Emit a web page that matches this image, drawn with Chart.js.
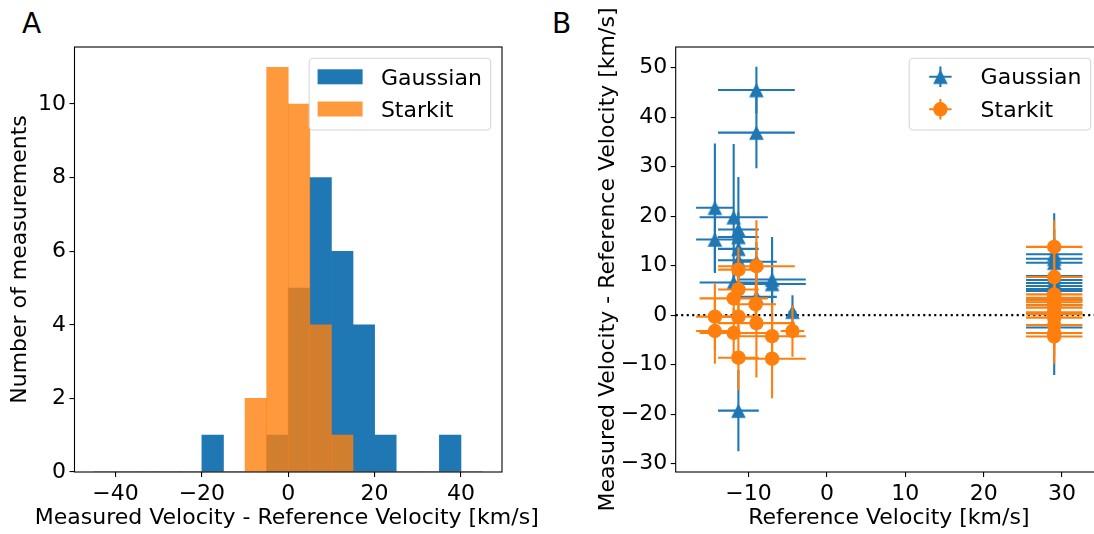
<!DOCTYPE html>
<html><head><meta charset="utf-8">
<script src="https://cdn.jsdelivr.net/npm/chart.js@4.4.1/dist/chart.umd.min.js"></script>
<style>
html,body{margin:0;padding:0;background:#fff;overflow:hidden;width:1094px;height:534px;position:relative;}
#wrapA{position:absolute;left:0;top:0;width:547px;height:534px;}
#wrapB{position:absolute;left:547px;top:0;width:600px;height:534px;}
.lbl{position:absolute;font-family:'DejaVu Sans';font-size:28px;line-height:28px;color:#000;}
</style></head>
<body>
<div class="lbl" style="left:22px;top:9.5px">A</div>
<div class="lbl" style="left:552px;top:9.5px">B</div>
<div id="wrapA"><canvas id="cA"></canvas></div>
<div id="wrapB"><canvas id="cB"></canvas></div>
<script>
// ---------- Panel A: histogram ----------
const histBinCenters = [-42.5,-37.5,-32.5,-27.5,-22.5,-17.5,-12.5,-7.5,-2.5,2.5,7.5,12.5,17.5,22.5,27.5,32.5,37.5,42.5];
const gaussianCounts = [0,0,0,0,0,1,0,0,1,5,8,6,4,1,0,0,1,0];
const starkitCounts  = [0,0,0,0,0,0,0,2,11,10,4,1,0,0,0,0,0,0];
const histXTicks = [-40,-20,0,20,40];
const histYTicks = [0,2,4,6,8,10];
const histXTitle = 'Measured Velocity - Reference Velocity [km/s]';

// ---------- Panel B: scatter with error bars ----------
const gaussRefVel  = [-9.0,-9.0,-14.3,-14.3,-11.9,-11.3,-11.3,-11.3,-11.3,-9.0,-11.9,-7.0,-7.0,-9.0,-4.4,-11.3,
                      29.0,29.0,29.0,29.0,29.0,29.0,29.0,29.0,29.0,29.0,29.0,29.0];
const gaussDiff    = [45.5,36.9,21.7,15.3,19.8,17.3,15.8,13.4,11.1,10.8,6.6,7.2,6.3,3.7,0.7,-19.3,
                      12.3,11.4,10.6,7.9,7.1,6.5,5.9,5.3,4.9,3.0,2.0,-2.5];
const gaussRefErr  = [4.9,4.9,2.4,2.4,4.35,2.6,2.6,2.6,2.6,2.6,4.35,4.3,4.3,2.6,0.5,2.6,
                      3.6,3.6,3.6,3.6,3.6,3.6,3.6,3.6,3.6,3.6,3.6,3.6];
const gaussDiffErr = [4.7,7.2,13.0,6.8,14.8,10.6,5.0,4.0,3.5,4.0,4.0,8.6,4.0,3.0,3.3,8.2,
                      8.3,6.0,5.0,5.0,6.0,5.0,5.0,4.5,5.0,5.0,5.0,9.6];

const starkRefVel  = [-11.3,-9.0,-11.3,-11.9,-9.1,-14.3,-11.3,-9.0,-14.3,-11.9,-7.0,-4.4,-11.3,-7.0,
                      29.0,29.0,29.0,29.0,29.0,29.0,29.0,29.0,29.0,29.0,29.0,29.0,29.0,29.0];
const starkDiff    = [9.2,9.9,5.2,3.4,2.2,-0.3,-0.3,-1.6,-3.2,-3.6,-4.25,-3.2,-8.6,-8.8,
                      13.8,7.7,4.2,3.5,3.0,2.6,2.0,1.5,0.6,0.2,-0.5,-2.0,-3.6,-4.3];
const starkRefErr  = [2.6,4.9,2.6,4.35,2.6,2.4,2.6,4.9,2.4,4.35,4.3,1.5,2.6,4.3,
                      3.6,3.6,3.6,3.6,3.6,3.6,3.6,3.6,3.6,3.6,3.6,3.6,3.6,3.6];
const starkDiffErr = [4.5,9.3,5.0,3.0,4.0,6.7,4.0,11.0,6.6,5.0,6.6,5.2,6.6,8.0,
                      5.4,5.0,4.5,4.5,4.5,4.5,4.5,4.5,4.5,4.5,4.5,4.5,4.5,5.5];
const scatterXTicks = [-10,0,10,20,30];
const scatterYTicks = [-30,-20,-10,0,10,20,30,40,50];
const zeroLevel = 0;

const BLUE = '#1f77b4', ORANGE = '#ff7f0e', ORANGE_A = 'rgba(255,127,14,0.8)';
const FONT = 'DejaVu Sans';
Chart.defaults.font.family = FONT;
Chart.defaults.font.size = 22;
Chart.defaults.color = '#000';

const fmt = v => String(v).replace('-', '\u2212');

// triangle marker like matplotlib '^'
function makeTriangle(color, s) {
  const c = document.createElement('canvas');
  const n = Math.ceil(s) + 2;
  c.width = n; c.height = n;
  const g = c.getContext('2d');
  const o = (n - s) / 2;
  g.fillStyle = color;
  g.beginPath();
  g.moveTo(n / 2, o); g.lineTo(o + s, o + s); g.lineTo(o, o + s); g.closePath();
  g.fill();
  return c;
}
const triMarker = makeTriangle(BLUE, 14.6);

const framePlugin = {
  id: 'frame',
  afterDatasetsDraw(chart) {
    const {ctx, chartArea: a} = chart;
    ctx.save();
    ctx.strokeStyle = '#000'; ctx.lineWidth = 1.1;
    ctx.strokeRect(a.left, a.top, a.right - a.left, a.bottom - a.top);
    ctx.restore();
  }
};

// x-axis title drawn at full width (Chart.js would squeeze it to the axis width)
const wideXTitle = {
  id: 'wideXTitle',
  afterDraw(chart, args, opts) {
    if (!opts.text) return;
    const {ctx, chartArea: a} = chart;
    ctx.save();
    ctx.fillStyle = '#000'; ctx.font = '22px "' + FONT + '"';
    ctx.textAlign = 'center'; ctx.textBaseline = 'alphabetic';
    ctx.fillText(opts.text, (a.left + a.right) / 2 - 1.5, a.bottom + 52.3);
    ctx.restore();
  }
};

function drawLegendFrame(ctx, a) {
  const w = 181.5, h = 71.7;
  const x = a.right - 11.3 - w, y = a.top + 11.3, r = 4;
  ctx.save();
  ctx.beginPath();
  ctx.moveTo(x + r, y); ctx.lineTo(x + w - r, y); ctx.arcTo(x + w, y, x + w, y + r, r);
  ctx.lineTo(x + w, y + h - r); ctx.arcTo(x + w, y + h, x + w - r, y + h, r);
  ctx.lineTo(x + r, y + h); ctx.arcTo(x, y + h, x, y + h - r, r);
  ctx.lineTo(x, y + r); ctx.arcTo(x, y, x + r, y, r); ctx.closePath();
  ctx.fillStyle = 'rgba(255,255,255,0.8)'; ctx.fill();
  ctx.strokeStyle = '#d6d6d6'; ctx.lineWidth = 1.1; ctx.stroke();
  ctx.restore();
  return {x, y};
}

const legendA = {
  id: 'legendA',
  afterDraw(chart) {
    const {ctx, chartArea: a} = chart;
    const {x, y} = drawLegendFrame(ctx, a);
    chart.data.datasets.forEach((ds, i) => {
      ctx.save();
      ctx.fillStyle = ds.backgroundColor;
      ctx.fillRect(x + 8.4, y + 11 + i * 32.2, 45, 15);
      ctx.fillStyle = '#000'; ctx.font = '22px "' + FONT + '"';
      ctx.textBaseline = 'alphabetic';
      ctx.fillText(ds.label, x + 71.7, y + 26.7 + i * 32.2);
      ctx.restore();
    });
  }
};

const legendB = {
  id: 'legendB',
  afterDraw(chart) {
    const {ctx, chartArea: a} = chart;
    const {x, y} = drawLegendFrame(ctx, a);
    chart.data.datasets.forEach((ds, i) => {
      if (!ds.errX) return;
      const cx = x + 31.2, cy = y + 18.4 + i * 32.6;
      ctx.save();
      ctx.strokeStyle = ds.errColor; ctx.lineWidth = 2.1;
      ctx.beginPath();
      ctx.moveTo(cx - 11.2, cy); ctx.lineTo(cx + 11.2, cy);
      ctx.moveTo(cx, cy - 10.3); ctx.lineTo(cx, cy + 10.3);
      ctx.stroke();
      if (ds.pointStyle === 'circle') {
        ctx.fillStyle = ds.backgroundColor;
        ctx.beginPath(); ctx.arc(cx, cy, ds.pointRadius, 0, Math.PI * 2); ctx.fill();
      } else {
        ctx.drawImage(ds.pointStyle, cx - ds.pointStyle.width / 2, cy - ds.pointStyle.height / 2);
      }
      ctx.fillStyle = '#000'; ctx.font = '22px "' + FONT + '"';
      ctx.fillText(ds.label, x + 71.4, y + 26 + i * 32.4);
      ctx.restore();
    });
  }
};

const errorBars = {
  id: 'errorBars',
  beforeDatasetsDraw(chart) {
    const {ctx, chartArea: a, scales: {x, y}} = chart;
    const py = y.getPixelForValue(zeroLevel);
    ctx.save();
    ctx.strokeStyle = '#000'; ctx.lineWidth = 2.1; ctx.setLineDash([2.1, 3.4]);
    ctx.beginPath(); ctx.moveTo(a.left, py); ctx.lineTo(a.right, py); ctx.stroke();
    ctx.restore();
  },
  beforeDatasetDraw(chart, args) {
    const ds = chart.data.datasets[args.index];
    if (!ds.errX) return;
    const {ctx, chartArea: a, scales: {x, y}} = chart;
    ctx.save();
    ctx.beginPath(); ctx.rect(a.left, a.top, a.right - a.left, a.bottom - a.top); ctx.clip();
    ctx.strokeStyle = ds.errColor; ctx.lineWidth = 2.1;
    ds.data.forEach((p, i) => {
      const px = x.getPixelForValue(p.x), py = y.getPixelForValue(p.y);
      ctx.beginPath();
      ctx.moveTo(x.getPixelForValue(p.x - ds.errX[i]), py);
      ctx.lineTo(x.getPixelForValue(p.x + ds.errX[i]), py);
      ctx.moveTo(px, y.getPixelForValue(p.y - ds.errY[i]));
      ctx.lineTo(px, y.getPixelForValue(p.y + ds.errY[i]));
      ctx.stroke();
    });
    ctx.restore();
  }
};

const tickGrid = {display: true, drawOnChartArea: false, drawTicks: true, tickLength: 5, color: '#000', lineWidth: 1.1, offset: false};
const tickFont = {family: FONT, size: 22};
const setTicks = arr => scale => { scale.ticks = arr.map(v => ({value: v})); };

new Chart(document.getElementById('cA'), {
  type: 'bar',
  data: {
    datasets: [
      {label: 'Gaussian', data: histBinCenters.map((c, i) => ({x: c, y: gaussianCounts[i]})),
       backgroundColor: BLUE, borderWidth: 0, grouped: false, barPercentage: 1, categoryPercentage: 1, order: 1},
      {label: 'Starkit', data: histBinCenters.map((c, i) => ({x: c, y: starkitCounts[i]})),
       backgroundColor: ORANGE_A, borderWidth: 0, grouped: false, barPercentage: 1, categoryPercentage: 1, order: 0}
    ]
  },
  options: {
    responsive: true, maintainAspectRatio: false, animation: false,
    layout: {padding: {left: 0, top: 47, right: 45, bottom: 0}},
    plugins: {legend: {display: false}, tooltip: {enabled: false}, wideXTitle: {text: histXTitle}},
    scales: {
      x: {type: 'linear', min: -49.5, max: 49.5, offset: false, grid: tickGrid, border: {display: false},
          afterBuildTicks: setTicks(histXTicks),
          ticks: {font: tickFont, color: '#000', padding: 4, autoSkip: false, maxRotation: 0, callback: v => fmt(v)},
          afterFit: s => { s.height = 62; },
          title: {display: false}},
      y: {type: 'linear', min: 0, max: 11.55, grid: tickGrid, border: {display: false},
          afterBuildTicks: setTicks(histYTicks),
          ticks: {font: tickFont, color: '#000', padding: 3.5, autoSkip: false, callback: v => fmt(v)},
          afterFit: s => { s.width = 74.5; },
          title: {display: true, text: 'Number of measurements', font: tickFont, color: '#000', padding: {top: 7, bottom: 0}}}
    }
  },
  plugins: [framePlugin, legendA, wideXTitle]
});

new Chart(document.getElementById('cB'), {
  type: 'scatter',
  data: {
    datasets: [
      {label: 'Gaussian', data: gaussRefVel.map((v, i) => ({x: v, y: gaussDiff[i]})),
       errX: gaussRefErr, errY: gaussDiffErr, errColor: BLUE,
       pointStyle: triMarker, pointRadius: 7.3, backgroundColor: BLUE, borderWidth: 0, order: 1},
      {label: 'Starkit', data: starkRefVel.map((v, i) => ({x: v, y: starkDiff[i]})),
       errX: starkRefErr, errY: starkDiffErr, errColor: ORANGE,
       pointStyle: 'circle', pointRadius: 7.2, backgroundColor: ORANGE, borderWidth: 0, order: 0}
    ]
  },
  options: {
    responsive: true, maintainAspectRatio: false, animation: false,
    layout: {padding: {left: 40, top: 47, right: 45, bottom: 0}},
    plugins: {legend: {display: false}, tooltip: {enabled: false}},
    elements: {point: {hoverRadius: 7.2}},
    scales: {
      x: {type: 'linear', min: -19.3, max: 35.1, grid: tickGrid, border: {display: false},
          afterBuildTicks: setTicks(scatterXTicks),
          ticks: {font: tickFont, color: '#000', padding: 4, autoSkip: false, maxRotation: 0, callback: v => fmt(v)},
          afterFit: s => { s.height = 62; },
          title: {display: true, text: 'Reference Velocity [km/s]', font: tickFont, color: '#000', padding: {top: 0, bottom: 2.5}}},
      y: {type: 'linear', min: -31.7, max: 54.2, grid: tickGrid, border: {display: false},
          afterBuildTicks: setTicks(scatterYTicks),
          ticks: {font: tickFont, color: '#000', padding: 3.5, autoSkip: false, callback: v => fmt(v)},
          afterFit: s => { s.width = 88.7; },
          title: {display: true, text: 'Measured Velocity - Reference Velocity [km/s]', font: tickFont, color: '#000', padding: {top: 8, bottom: 0}}}
    }
  },
  plugins: [framePlugin, errorBars, legendB]
});
</script>
</body></html>
